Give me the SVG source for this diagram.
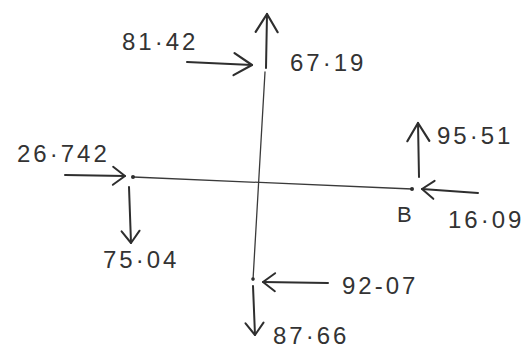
<svg xmlns="http://www.w3.org/2000/svg" width="529" height="349" viewBox="0 0 529 349">
  <style>
    .member { stroke: #3a3a3a; stroke-width: 1.3; fill: none; stroke-linecap: round; }
    .force { stroke: #2e2e2e; stroke-width: 2; fill: none; stroke-linecap: round; }
    .lbl { font-family: "Liberation Sans", Arial, sans-serif; font-size: 24px; fill: #333; letter-spacing: 3px; }
    .dot { fill: #2e2e2e; }
  </style>
  <defs>
    <marker id="head" viewBox="-16 -11 18 22" refX="0" refY="0" markerWidth="18" markerHeight="22" markerUnits="userSpaceOnUse" orient="auto">
      <path d="M-12,-9 L0,0 L-12,9" fill="none" stroke="#2e2e2e" stroke-width="2" stroke-linecap="round" stroke-linejoin="round"/>
    </marker>
    <marker id="headL" viewBox="-20 -13 22 26" refX="0" refY="0" markerWidth="22" markerHeight="26" markerUnits="userSpaceOnUse" orient="auto">
      <path d="M-18,-11 L0,0 L-18,11" fill="none" stroke="#2e2e2e" stroke-width="2.2" stroke-linecap="round" stroke-linejoin="round"/>
    </marker>
  </defs>
  <rect width="529" height="349" fill="#ffffff"/>

  <g id="members">
    <line class="member" x1="133" y1="177" x2="412" y2="189"/>
    <line class="member" x1="265" y1="72" x2="253" y2="280"/>
    <circle class="dot" cx="133" cy="177" r="2"/>
    <circle class="dot" cx="412" cy="189" r="2"/>
    <circle class="dot" cx="253" cy="279" r="1.8"/>
  </g>

  <g id="connectors">
    <line class="force" x1="266" y1="68" x2="267" y2="14" marker-end="url(#headL)"/>
    <line class="force" x1="187" y1="62" x2="252" y2="65" marker-end="url(#headL)"/>
    <line class="force" x1="65" y1="175" x2="125" y2="176" marker-end="url(#head)"/>
    <line class="force" x1="129" y1="187" x2="131" y2="243" marker-end="url(#head)"/>
    <line class="force" x1="419" y1="177" x2="418" y2="123" marker-end="url(#headL)"/>
    <line class="force" x1="478" y1="193" x2="422" y2="189" marker-end="url(#head)"/>
    <line class="force" x1="328" y1="283" x2="263" y2="282" marker-end="url(#head)"/>
    <line class="force" x1="253" y1="286" x2="255" y2="335" marker-end="url(#head)"/>
  </g>

  <g id="labels">
    <text class="lbl" x="122" y="50">81·42</text>
    <text class="lbl" x="290" y="71">67·19</text>
    <text class="lbl" x="17" y="162">26·742</text>
    <text class="lbl" x="437" y="144">95·51</text>
    <text class="lbl" x="397" y="222" style="font-size:22px">B</text>
    <text class="lbl" x="448" y="228">16·09</text>
    <text class="lbl" x="103" y="268">75·04</text>
    <text class="lbl" x="342" y="294">92-07</text>
    <text class="lbl" x="273" y="344">87·66</text>
  </g>
</svg>
